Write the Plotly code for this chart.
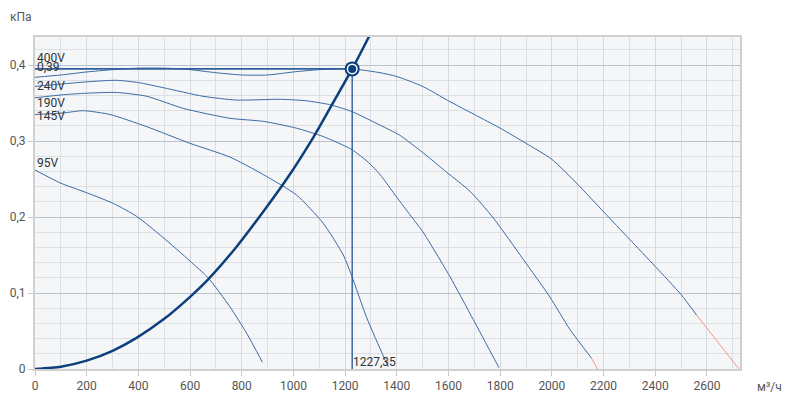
import plotly.graph_objects as go

# ---- data ----
v400_x = [0, 100, 200, 300, 400, 500, 600, 700, 800, 900, 1000, 1100, 1227.35, 1335, 1400, 1500, 1600, 1700, 1800, 1900, 2000, 2100, 2200, 2300, 2400, 2500, 2560]
v400_y = [0.384, 0.387, 0.391, 0.394, 0.396, 0.396, 0.394, 0.390, 0.387, 0.387, 0.391, 0.394, 0.395, 0.390, 0.385, 0.372, 0.353, 0.335, 0.317, 0.297, 0.276, 0.243, 0.207, 0.171, 0.135, 0.098, 0.071]
v400_red_x = [2560, 2640, 2724]
v400_red_y = [0.071, 0.037, 0.0]

v240_x = [0, 100, 200, 316, 400, 500, 650, 780, 950, 1050, 1140, 1225, 1335, 1410, 1500, 1593, 1683, 1773, 1890, 1990, 2070, 2153]
v240_y = [0.372, 0.375, 0.378, 0.380, 0.377, 0.370, 0.359, 0.354, 0.355, 0.353, 0.348, 0.339, 0.321, 0.308, 0.285, 0.259, 0.234, 0.199, 0.144, 0.096, 0.052, 0.0145]
v240_red_x = [2153, 2177]
v240_red_y = [0.0145, 0.0]

v190_x = [0, 109, 200, 316, 432, 574, 754, 883, 1012, 1115, 1225, 1290, 1335, 1400, 1451, 1500, 1605, 1696, 1795]
v190_y = [0.357, 0.361, 0.363, 0.364, 0.359, 0.343, 0.330, 0.326, 0.317, 0.306, 0.289, 0.272, 0.256, 0.226, 0.203, 0.181, 0.122, 0.065, 0.002]

v145_x = [0, 109, 187, 290, 432, 600, 754, 883, 1012, 1115, 1193, 1225, 1283, 1348, 1367]
v145_y = [0.335, 0.337, 0.340, 0.335, 0.319, 0.297, 0.279, 0.256, 0.229, 0.192, 0.150, 0.123, 0.068, 0.017, 0.003]

v95_x = [0, 97, 200, 303, 393, 496, 600, 670, 754, 819, 880]
v95_y = [0.262, 0.245, 0.232, 0.218, 0.201, 0.173, 0.142, 0.120, 0.082, 0.047, 0.009]

sys_x = [0, 100, 200, 300, 393, 500, 600, 670, 780, 883, 974, 1077, 1141, 1227.35, 1290, 1320]
sys_y = [0, 0.003, 0.011, 0.024, 0.041, 0.066, 0.095, 0.118, 0.161, 0.207, 0.250, 0.305, 0.343, 0.395, 0.436, 0.457]

op_x = 1227.35
op_y = 0.395
op_x_label = "1227,35"
op_y_label = "0,39"

curve_labels = ["400V", "240V", "190V", "145V", "95V"]
curve_label_y = [0.4096, 0.3728, 0.3504, 0.3333, 0.2714]

x_ticks = [0, 200, 400, 600, 800, 1000, 1200, 1400, 1600, 1800, 2000, 2200, 2400, 2600]
y_ticks = [0, 0.1, 0.2, 0.3, 0.4]

CURVE = "#3d6aa3"
RED = "#f39684"
DARK = "#0d3f7c"
OPL = "#2f5f9c"

fig = go.Figure()

def line(x, y, color, width, shape="spline"):
    fig.add_trace(go.Scatter(x=x, y=y, mode="lines", hoverinfo="skip",
                             line=dict(color=color, width=width, shape=shape, smoothing=0.6)))

line(v95_x, v95_y, CURVE, 1)
line(v145_x, v145_y, CURVE, 1)
line(v190_x, v190_y, CURVE, 1)
line(v240_x, v240_y, CURVE, 1)
line(v240_red_x, v240_red_y, RED, 1, "linear")
line(v400_x, v400_y, CURVE, 1)
line(v400_red_x, v400_red_y, RED, 1, "linear")

# operating point guides
line([0, op_x], [op_y, op_y], OPL, 1.6, "linear")
line([op_x, op_x], [0, op_y], OPL, 1.4, "linear")

# system curve
line(sys_x, sys_y, DARK, 2.5)

# operating point marker
for size, col in [(15, DARK), (11, "white"), (8, DARK)]:
    fig.add_trace(go.Scatter(x=[op_x], y=[op_y], mode="markers", hoverinfo="skip",
                             marker=dict(size=size, color=col, line=dict(width=0)),
                             cliponaxis=False))

FONT = "Roboto, Arial, sans-serif"
ann_font = dict(family=FONT, size=12, color="#333")
annotations = []
for txt, yy in zip(curve_labels, curve_label_y):
    annotations.append(dict(x=0, y=yy, xref="x", yref="y", text=txt, showarrow=False,
                            xanchor="left", yanchor="middle", font=ann_font))
annotations.append(dict(x=0, y=0.3978, xref="x", yref="y", text=op_y_label, showarrow=False,
                        xanchor="left", yanchor="middle", font=ann_font))
annotations.append(dict(x=op_x, y=0.0096, xref="x", yref="y", text=op_x_label, showarrow=False,
                        xanchor="left", yanchor="middle", xshift=-1, font=ann_font))
annotations.append(dict(x=-0.0383, y=1.06, xref="paper", yref="paper", text="кПа", showarrow=False,
                        xanchor="left", yanchor="middle", font=dict(family=FONT, size=12, color="#555")))
annotations.append(dict(x=1.021, y=-0.054, xref="paper", yref="paper", text="м³/ч", showarrow=False,
                        xanchor="left", yanchor="middle", font=dict(family=FONT, size=12, color="#555")))

fig.update_layout(
    width=786, height=399,
    margin=dict(l=35, r=46, t=37, b=30, autoexpand=False),
    paper_bgcolor="white",
    plot_bgcolor="#f4f6f8",
    showlegend=False,
    separators=", ",
    font=dict(family=FONT, size=12, color="#555"),
    annotations=annotations,
    xaxis=dict(range=[0, 2728], tickvals=x_ticks, showgrid=True, gridcolor="#d6d9de", gridwidth=1,
               minor=dict(dtick=100, tick0=0, showgrid=True, gridcolor="#dcdfe3", gridwidth=1),
               ticks="outside", ticklen=5, tickcolor="#c8c8c8", automargin=False,
               showline=True, linecolor="#d0d0d0", linewidth=2, mirror=True,
               zeroline=False, fixedrange=True),
    yaxis=dict(range=[0, 0.437], tickvals=y_ticks, showgrid=True, gridcolor="#b9c2ce", gridwidth=1,
               minor=dict(dtick=0.02, tick0=0, showgrid=True, gridcolor="#dcdfe3", gridwidth=1),
               ticks="outside", ticklen=5, tickcolor="#c8c8c8", automargin=False,
               showline=True, linecolor="#d0d0d0", linewidth=2, mirror=True,
               zeroline=False, fixedrange=True),
)

fig.write_html("out.html", config={"displayModeBar": False})
